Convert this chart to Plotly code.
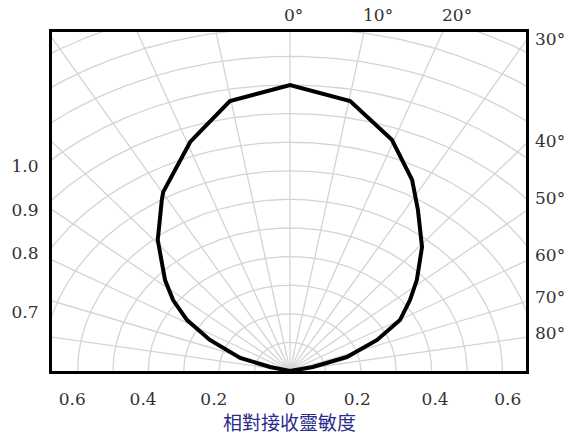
import numpy as np
import plotly.graph_objects as go

# ---- data ----
angles_deg = [-90, -76, -72, -64.4, -58.5, -53.1, -48, -39.2, -31.2, -29.8, -19.4, -10.2, 0,
              10.2, 19.6, 27.3, 32.7, 40.7, 48.4, 53.8, 60.2, 66.2, 73.1, 77.8, 90]
rel_values = [0.0, 0.058, 0.148, 0.251, 0.341, 0.413, 0.475, 0.591, 0.699, 0.721, 0.849, 0.959, 1.0,
              0.959, 0.858, 0.752, 0.669, 0.572, 0.479, 0.420, 0.358, 0.269, 0.168, 0.066, 0.0]

bottom_tick_vals = [-0.615, -0.415, -0.215, 0.0, 0.19, 0.41, 0.615]
bottom_tick_text = ["0.6", "0.4", "0.2", "0", "0.2", "0.4", "0.6"]

left_label_text = ["1.0", "0.9", "0.8", "0.7"]
left_label_pos = [0.717, 0.563, 0.413, 0.206]

right_label_text = ["30°", "40°", "50°", "60°", "70°", "80°"]
right_label_pos = [1.161, 0.804, 0.605, 0.406, 0.259, 0.133]

top_label_text = ["0°", "10°", "20°"]
top_label_pos = [0.011, 0.249, 0.472]

grid_radii = [0.1 * k for k in range(1, 15)]
grid_angles = list(range(-80, 90, 10))

x_title = "相對接收靈敏度"

# ---- figure ----
fig = go.Figure()
grid_col = "#d4d4d4"

t = np.radians(np.linspace(-90, 90, 361))
for r in grid_radii:
    fig.add_trace(go.Scatter(x=r * np.sin(t), y=r * np.cos(t), mode="lines",
                             line=dict(color=grid_col, width=1.3), hoverinfo="skip",
                             showlegend=False))
for a in grid_angles:
    ar = np.radians(a)
    fig.add_trace(go.Scatter(x=[0, 3 * np.sin(ar)], y=[0, 3 * np.cos(ar)], mode="lines",
                             line=dict(color=grid_col, width=1.3), hoverinfo="skip",
                             showlegend=False))

th = np.radians(np.array(angles_deg))
rv = np.array(rel_values)
fig.add_trace(go.Scatter(x=rv * np.sin(th), y=rv * np.cos(th), mode="lines",
                         line=dict(color="black", width=4), showlegend=False))

serif = "DejaVu Serif"
lab_col = "#333333"

annotations = []
for txt, yv in zip(right_label_text, right_label_pos):
    annotations.append(dict(x=1.015, xref="paper", y=yv, yref="y", text=txt, showarrow=False,
                            xanchor="left", yanchor="middle",
                            font=dict(family=serif, size=17, color=lab_col)))
for txt, xv in zip(top_label_text, top_label_pos):
    annotations.append(dict(x=xv, xref="x", y=1.05, yref="paper", text=txt, showarrow=False,
                            xanchor="center", yanchor="middle",
                            font=dict(family=serif, size=17, color=lab_col)))
annotations.append(dict(x=0.502, xref="paper", y=-0.15, yref="paper", text=x_title,
                        showarrow=False, xanchor="center", yanchor="middle",
                        font=dict(family="Noto Sans CJK TC", size=19, color="#2b2b8c")))

fig.update_layout(
    width=574, height=437,
    margin=dict(l=52, r=48, t=32, b=66),
    paper_bgcolor="white", plot_bgcolor="white",
    annotations=annotations,
    xaxis=dict(range=[-238 / 354, 236 / 354], showgrid=False, zeroline=False,
               tickvals=bottom_tick_vals, ticktext=bottom_tick_text, ticks="",
               ticklabelstandoff=11,
               tickfont=dict(family=serif, size=17, color=lab_col),
               showline=True, linecolor="black", linewidth=3, mirror=True, fixedrange=True),
    yaxis=dict(range=[0, 339 / 286], showgrid=False, zeroline=False,
               tickvals=left_label_pos, ticktext=left_label_text, ticks="",
               ticklabelstandoff=7,
               tickfont=dict(family=serif, size=17, color=lab_col),
               showline=True, linecolor="black", linewidth=3, mirror=True, fixedrange=True),
)

fig.write_html("out.html", config={"displayModeBar": False},
               post_script="document.body.style.margin='0';document.body.style.overflow='hidden';")
